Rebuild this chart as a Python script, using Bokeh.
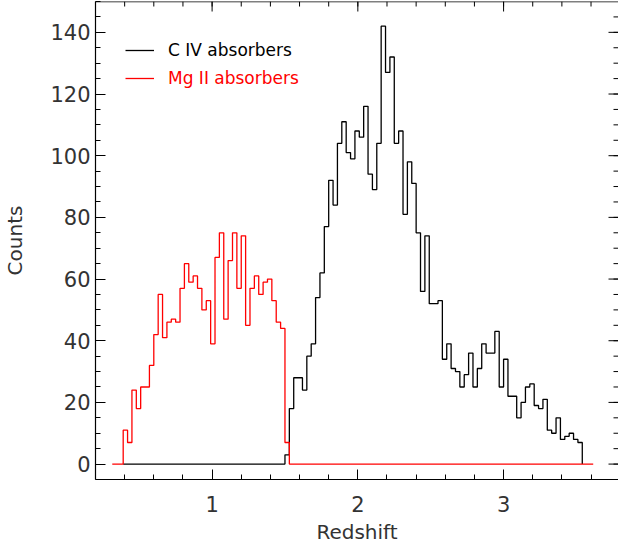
import numpy as np
from bokeh.plotting import figure
from bokeh.models import SingleIntervalTicker, Range1d, Legend, LegendItem, Span
from bokeh.embed import file_html
from bokeh.resources import INLINE

# ---------------- data ----------------
bin_width = 0.03
mg_first_edge = 0.39          # left edge of first Mg II bin
mg_counts = [11, 7, 24, 18, 25, 25, 32, 42, 55, 41, 46, 47, 46, 57, 65, 59,
             61, 57, 50, 53, 39, 67, 75, 47, 66, 75, 57, 74, 45, 57, 61, 55,
             59, 60, 53, 46, 44, 7]
mg_zero_start = 0.315         # histogram zero line extent
mg_zero_end = 3.615

civ_zero_start = 0.39
civ_first_edge = 1.50         # left edge of first non-zero C IV bin
civ_counts = [3, 18, 28, 28, 24, 35, 39, 54, 62, 77, 92, 84, 104, 111, 101,
              99, 108, 106, 116, 94, 89, 104, 142, 127, 132, 104, 108, 81, 98,
              91, 75, 56, 74, 52, 52, 53, 34, 39, 31, 30, 25, 29, 36, 25, 31,
              39, 36, 36, 43, 25, 34, 22, 22, 15, 20, 25, 26, 19, 18, 21, 11,
              10, 15, 8, 9, 10, 8, 7]

x_major_interval = 1.0
x_minor_step = 0.2
y_major_interval = 20
y_minor_step = 5
x_limits = (0.2, 3.7885)
y_limits = (-5, 150)

# ---------------- step outlines ----------------
mg_edges = mg_first_edge + bin_width * np.arange(len(mg_counts) + 1)
mg_x = np.concatenate([[mg_zero_start], mg_edges, [mg_zero_end]])
mg_y = np.concatenate([[0], mg_counts, [0, 0]])

civ_edges = civ_first_edge + bin_width * np.arange(len(civ_counts) + 1)
civ_x = np.concatenate([[civ_zero_start], civ_edges])
civ_y = np.concatenate([[0], civ_counts, [0]])

FONT = "DejaVu Sans"
TXT = "#333333"

p = figure(width=618, height=548, output_backend="svg", toolbar_location=None,
           x_range=Range1d(*x_limits), y_range=Range1d(*y_limits),
           min_border_left=93, min_border_right=0, min_border_top=1,
           min_border_bottom=69, x_axis_label="Redshift", y_axis_label="Counts")
p.outline_line_color = None
p.grid.visible = False
p.background_fill_color = "white"
p.border_fill_color = "white"

r_civ = p.step(x=civ_x, y=civ_y, mode="after", line_color="black", line_width=1.3)
r_mg = p.step(x=mg_x, y=mg_y, mode="after", line_color="#ff0000", line_width=1.3)

# ---------------- axes (ticks inside, IDL style) ----------------
for ax in list(p.xaxis) + list(p.yaxis):
    ax.axis_line_color = "black"
    ax.axis_line_width = 1.2
    ax.major_tick_in = 10
    ax.major_tick_out = 0
    ax.minor_tick_in = 5
    ax.minor_tick_out = 0
    ax.major_tick_line_color = "black"
    ax.minor_tick_line_color = "black"
    ax.major_label_text_font = FONT
    ax.major_label_text_font_size = "21px"
    ax.major_label_text_color = TXT
    ax.axis_label_text_font = FONT
    ax.axis_label_text_font_size = "20px"
    ax.axis_label_text_font_style = "normal"
    ax.axis_label_text_color = TXT

p.xaxis.ticker = SingleIntervalTicker(interval=x_major_interval, num_minor_ticks=5)
p.yaxis.ticker = SingleIntervalTicker(interval=y_major_interval, num_minor_ticks=4)
p.xaxis.major_label_standoff = 16
p.xaxis.axis_label_standoff = 5
p.yaxis.major_label_standoff = 5
p.yaxis.axis_label_standoff = 20

# top edge line of the box (the right edge lies just outside the picture)
p.add_layout(Span(location=y_limits[1], dimension="width",
                  line_color="black", line_width=1.5))

# mirrored ticks on the top and right edges of the frame (no labels)
x_minor = np.arange(x_limits[0], x_limits[1] + 1e-9, x_minor_step)
x_major = np.arange(np.ceil(x_limits[0]), x_limits[1], x_major_interval)
y_minor = np.arange(0, y_limits[1], y_minor_step)
y_major = np.arange(0, y_limits[1], y_major_interval)

p.ray(x=x_minor, y=y_limits[1], length=5, length_units="screen",
      angle=-np.pi / 2, line_color="black", line_width=1)
p.ray(x=x_major, y=y_limits[1], length=10, length_units="screen",
      angle=-np.pi / 2, line_color="black", line_width=1)
p.ray(x=x_limits[1], y=y_minor, length=5, length_units="screen",
      angle=np.pi, line_color="black", line_width=1)
p.ray(x=x_limits[1], y=y_major, length=10, length_units="screen",
      angle=np.pi, line_color="black", line_width=1)

# ---------------- legend ----------------
common = dict(padding=0, spacing=0, margin=0, glyph_width=29, glyph_height=20,
              label_height=20, label_standoff=14, label_text_font=FONT,
              label_text_font_size="17px", border_line_color=None,
              background_fill_alpha=0)
leg1 = Legend(items=[LegendItem(label="C IV absorbers", renderers=[r_civ])],
              location=(30, 419), label_text_color="black", **common)
leg2 = Legend(items=[LegendItem(label="Mg II absorbers", renderers=[r_mg])],
              location=(30, 391), label_text_color="#ff0000", **common)
p.add_layout(leg1)
p.add_layout(leg2)

open("out.html", "w").write(file_html(p, INLINE))
